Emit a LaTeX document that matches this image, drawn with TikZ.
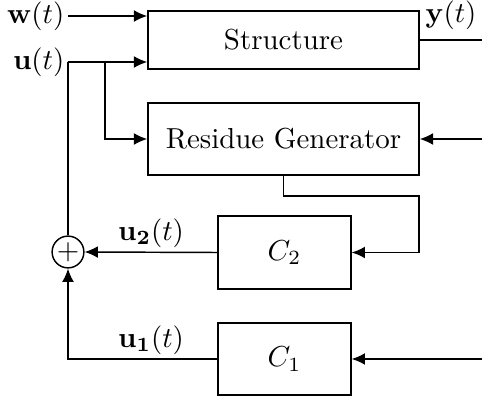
\documentclass[tikz,border=0pt]{standalone}
\usetikzlibrary{arrows.meta}
\begin{document}
\begin{tikzpicture}[x=0.346pt,y=-0.346pt,
  blk/.style={draw,rectangle,inner sep=0pt,line width=0.5pt},
  arr/.style={-{Latex[length=4.6pt,width=4.1pt]}},
  every path/.style={line width=0.5pt},
  sumnode/.style={draw,circle,inner sep=0pt,minimum size=11pt}]
\useasboundingbox (0,0) rectangle (482,398);
% blocks
\node[blk,minimum width=93.8pt,minimum height=20.1pt] (S) at (283.5,40) {Structure};
\node[blk,minimum width=93.8pt,minimum height=24.9pt] (R) at (283.5,139) {Residue Generator};
\node[blk,minimum width=46pt,minimum height=25.3pt] (C2) at (284.5,252.5) {$C_2$};
\node[blk,minimum width=46pt,minimum height=24.9pt] (C1) at (284.5,359) {$C_1$};
\node[sumnode] (sum) at (68,252) {$+$};
% coordinates
\coordinate (win) at (68,16);
\coordinate (uin) at (68,62);
\coordinate (br) at (105,62);
\coordinate (yout) at (482,40);
\coordinate (rin) at (482,139);
\coordinate (k) at (419,196);
\coordinate (c1in) at (482,359);
% labels
\node[anchor=east,inner sep=1pt] (wl) at (win) {$\mathbf{w}(t)$};
\node[anchor=east,inner sep=1pt] (ul) at (uin) {$\mathbf{u}(t)$};
\node (yl) at (451,15) {$\mathbf{y}(t)$};
\node (u2l) at (151,233) {$\mathbf{u_2}(t)$};
\node (u1l) at (151,340) {$\mathbf{u_1}(t)$};
% connectors
\draw[arr] (win) -- (S.west |- win);
\draw[arr] (uin) -- (S.west |- uin);
\draw[arr] (br) |- (R.west);
\draw (uin) -- (sum.north);
\draw (S.east) -- (yout);
\draw[arr] (rin) -- (R.east);
\draw[arr] (R.south) |- (k) |- (C2.east);
\draw[arr] (C2.west) -- (sum.east);
\draw[arr] (c1in) -- (C1.east);
\draw[arr] (C1.west) -| (sum.south);
\end{tikzpicture}
\end{document}
